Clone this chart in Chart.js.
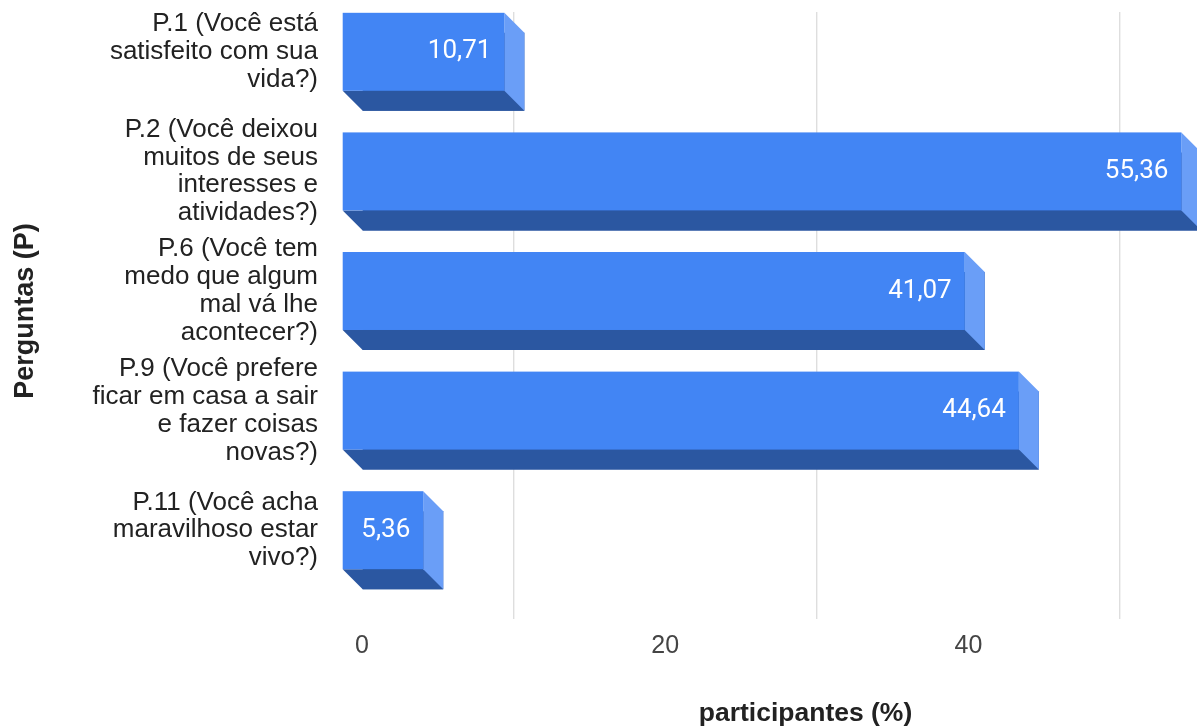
<!DOCTYPE html>
<html>
<head>
<meta charset="utf-8">
<script src="https://cdn.jsdelivr.net/npm/chart.js@4.4.1/dist/chart.umd.min.js"></script>
<style>
  html, body { margin: 0; padding: 0; background: #fff; overflow: hidden; }
  #wrap { width: 1197px; height: 727px; overflow: hidden; }
</style>
</head>
<body>
<div id="wrap"><canvas id="chart" width="1249" height="727"></canvas></div>
<script>
const perguntas = [
  ["P.1 (Você está", "satisfeito com sua", "vida?)"],
  ["P.2 (Você deixou", "muitos de seus", "interesses e", "atividades?)"],
  ["P.6 (Você tem", "medo que algum", "mal vá lhe", "acontecer?)"],
  ["P.9 (Você prefere", "ficar em casa a sair", "e fazer coisas", "novas?)"],
  ["P.11 (Você acha", "maravilhoso estar", "vivo?)"]
];
const participantes = [10.71, 55.36, 41.07, 44.64, 5.36];
const xTicks = [0, 20, 40];

const depth = 20;
const cores = { front: "#4285f4", side: "#6a9ef7", bottom: "#2b57a1" };

// draws the bars as boxes: Chart.js places the back face, we add front/bottom/side
const box3d = {
  id: "box3d",
  afterDatasetsDraw(chart) {
    const ctx = chart.ctx;
    const meta = chart.getDatasetMeta(0);
    ctx.save();
    meta.data.forEach((bar, i) => {
      const p = bar.getProps(["x", "y", "base", "height"], true);
      const x0 = p.base, x1 = p.x;
      const top = p.y - p.height / 2, bot = p.y + p.height / 2;
      // bottom face
      ctx.fillStyle = cores.bottom;
      ctx.beginPath();
      ctx.moveTo(x0 - depth, bot - depth);
      ctx.lineTo(x1 - depth, bot - depth);
      ctx.lineTo(x1, bot);
      ctx.lineTo(x0, bot);
      ctx.closePath();
      ctx.fill();
      // side face
      ctx.fillStyle = cores.side;
      ctx.beginPath();
      ctx.moveTo(x1 - depth, top - depth);
      ctx.lineTo(x1, top);
      ctx.lineTo(x1, bot);
      ctx.lineTo(x1 - depth, bot - depth);
      ctx.closePath();
      ctx.fill();
      // front face
      ctx.fillStyle = cores.front;
      ctx.fillRect(x0 - depth, top - depth, x1 - x0, bot - top);
      // value label
      ctx.fillStyle = "#ffffff";
      ctx.font = "26px Roboto";
      ctx.textAlign = "right";
      ctx.textBaseline = "middle";
      const txt = participantes[i].toFixed(2).replace(".", ",");
      ctx.fillText(txt, x1 - depth - 13, p.y - depth);
    });
    ctx.restore();
  }
};

new Chart(document.getElementById("chart"), {
  type: "bar",
  data: {
    labels: perguntas,
    datasets: [{
      data: participantes,
      backgroundColor: cores.bottom,
      borderWidth: 0,
      barPercentage: 0.652,
      categoryPercentage: 1
    }]
  },
  plugins: [box3d],
  options: {
    indexAxis: "y",
    responsive: false,
    animation: false,
    layout: { padding: { top: 12, left: 0, right: 0, bottom: 0 } },
    plugins: { legend: { display: false }, tooltip: { enabled: false } },
    scales: {
      x: {
        min: 0,
        max: 58.5,
        afterFit: (s) => { s.height = 117; s.paddingLeft = 0; s.paddingRight = 0; },
        border: { display: false },
        grid: {
          color: (c) => (c.tick && c.tick.value % 20 === 10 ? "#dedede" : "rgba(0,0,0,0)"),
          lineWidth: 1.4,
          drawTicks: true,
          tickLength: 9
        },
        ticks: {
          stepSize: 10,
          autoSkip: false,
          maxRotation: 0,
          padding: 12,
          color: "#444",
          font: { family: "Liberation Sans", size: 25 },
          callback: (v) => (xTicks.includes(v) ? String(v) : "")
        },
        title: {
          display: true,
          text: "participantes (%)",
          color: "#222",
          font: { family: "Liberation Sans", size: 26.5, weight: "bold", lineHeight: 1 },
          padding: { top: 0, bottom: 0 }
        }
      },
      y: {
        afterFit: (s) => { s.width = 362; s.paddingTop = 0; s.paddingBottom = 0; },
        border: { display: false },
        grid: { display: false },
        ticks: {
          autoSkip: false,
          padding: 36,
          labelOffset: -depth,
          color: "#222",
          font: { family: "Liberation Sans", size: 26, lineHeight: 1.07 }
        },
        title: {
          display: true,
          text: "Perguntas (P)",
          color: "#222",
          font: { family: "Liberation Sans", size: 27, weight: "bold", lineHeight: 1 },
          padding: { top: 12, bottom: 0 }
        }
      }
    }
  }
});
</script>
</body>
</html>
